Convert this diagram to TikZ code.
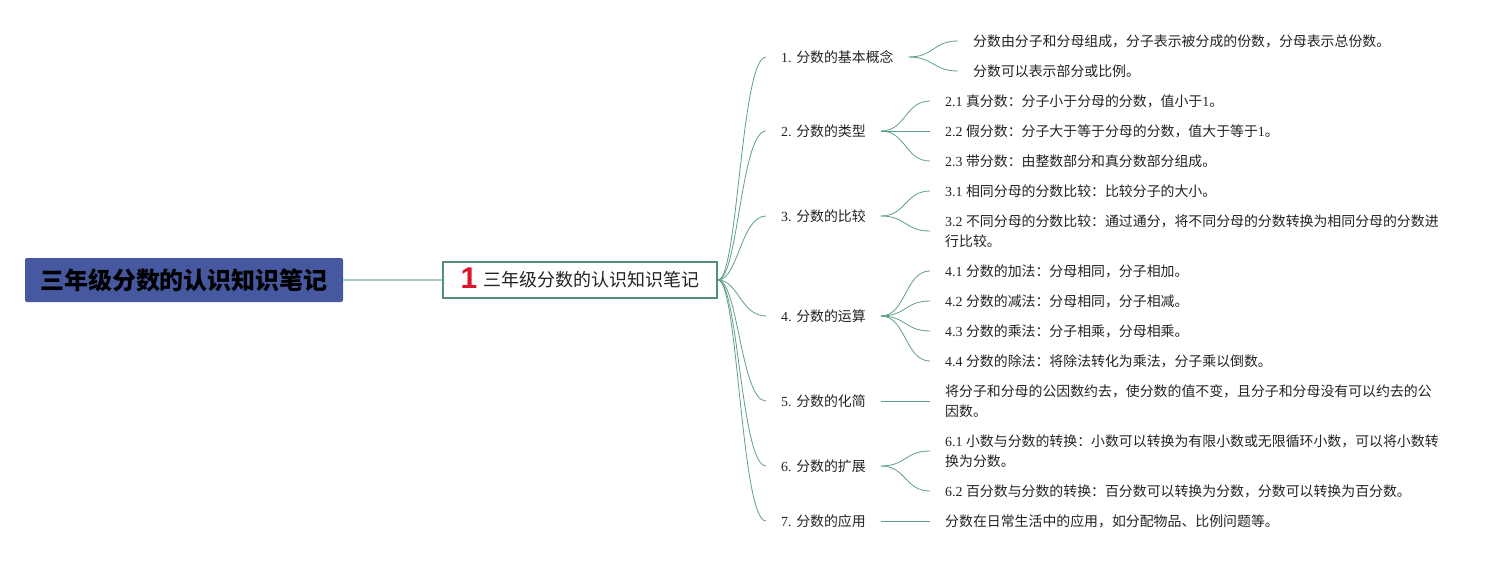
\documentclass[tikz,border=0pt]{standalone}
\usepackage{fontspec}
\setmainfont{Liberation Serif}
\newfontfamily\cjk{Noto Sans CJK SC}
\newfontfamily\iconfont{Liberation Sans}
\XeTeXinterchartokenstate=1
\newXeTeXintercharclass\mycjkclass
\count255="3000
\loop \XeTeXcharclass\count255=\mycjkclass \advance\count255 by 1 \ifnum\count255<"3040 \repeat
\count255="4E00
\loop \XeTeXcharclass\count255=\mycjkclass \advance\count255 by 1 \ifnum\count255<"A000 \repeat
\count255="FF00
\loop \XeTeXcharclass\count255=\mycjkclass \advance\count255 by 1 \ifnum\count255<"FFF0 \repeat
\XeTeXinterchartoks 0 \mycjkclass = {\cjk}
\XeTeXinterchartoks 4095 \mycjkclass = {\cjk}
\XeTeXinterchartoks \mycjkclass 0 = {\rmfamily}
\XeTeXinterchartoks \mycjkclass 4095 = {\rmfamily}
\definecolor{linkc}{RGB}{95,158,138}
\definecolor{mainlink}{RGB}{166,203,191}
\definecolor{rootc}{RGB}{69,88,160}
\definecolor{boxc}{RGB}{84,143,124}
\definecolor{iconred}{RGB}{220,20,40}
\definecolor{txt}{RGB}{35,35,35}
\tikzset{
  conn/.style={draw=linkc, line width=0.8pt},
  lone/.style={anchor=west, inner xsep=15pt, inner ysep=3pt, text=txt, font=\fontsize{13.9}{20}\selectfont},
  ltwo/.style={lone, align=left},
  rootbox/.style={fill=rootc, rounded corners=2pt, minimum width=318pt, minimum height=44pt, inner sep=0pt, text=black, font=\fontsize{24}{28}\selectfont\bfseries},
  centerbox/.style={draw=boxc, line width=2pt, fill=white, minimum width=274pt, minimum height=36pt, inner sep=0pt, text=txt, font=\fontsize{18}{22}\selectfont}
}
\begin{document}
\begin{tikzpicture}[x=1pt,y=-1pt]
\useasboundingbox (0,0) rectangle (1505,560);
% root and center
\node[rootbox] (root) at (184,280) {三年级分数的认识知识笔记};
\node[centerbox] (center) at (580,280) {\raisebox{-2pt}{\smash{\iconfont\bfseries\fontsize{30}{30}\selectfont\color{iconred}1}}\hspace{6pt}三年级分数的认识知识笔记};
\draw[draw=mainlink, line width=1.5pt] (root.east) -- (center.west);
% level one
\node[lone] (b1) at (766,57) {1. 分数的基本概念};
\node[lone] (b2) at (766,131) {2. 分数的类型};
\node[lone] (b3) at (766,216) {3. 分数的比较};
\node[lone] (b4) at (766,316) {4. 分数的运算};
\node[lone] (b5) at (766,401) {5. 分数的化简};
\node[lone] (b6) at (766,466) {6. 分数的扩展};
\node[lone] (b7) at (766,521) {7. 分数的应用};
\foreach \b in {b1,b2,b3,b4,b5,b6,b7}
  \draw[conn] (center.east) .. controls +(20,0) and +(-25,0) .. (\b.west);
% level two
\node[ltwo] (c11) at (958,41) {分数由分子和分母组成，分子表示被分成的份数，分母表示总份数。};
\node[ltwo] (c12) at (958,71) {分数可以表示部分或比例。};
\node[ltwo] (c21) at (930,101) {2.1 真分数：分子小于分母的分数，值小于1。};
\node[ltwo] (c22) at (930,131) {2.2 假分数：分子大于等于分母的分数，值大于等于1。};
\node[ltwo] (c23) at (930,161) {2.3 带分数：由整数部分和真分数部分组成。};
\node[ltwo] (c31) at (930,191) {3.1 相同分母的分数比较：比较分子的大小。};
\node[ltwo] (c32) at (930,231) {3.2 不同分母的分数比较：通过通分，将不同分母的分数转换为相同分母的分数进\\行比较。};
\node[ltwo] (c41) at (930,271) {4.1 分数的加法：分母相同，分子相加。};
\node[ltwo] (c42) at (930,301) {4.2 分数的减法：分母相同，分子相减。};
\node[ltwo] (c43) at (930,331) {4.3 分数的乘法：分子相乘，分母相乘。};
\node[ltwo] (c44) at (930,361) {4.4 分数的除法：将除法转化为乘法，分子乘以倒数。};
\node[ltwo] (c51) at (930,401) {将分子和分母的公因数约去，使分数的值不变，且分子和分母没有可以约去的公\\因数。};
\node[ltwo] (c61) at (930,451) {6.1 小数与分数的转换：小数可以转换为有限小数或无限循环小数，可以将小数转\\换为分数。};
\node[ltwo] (c62) at (930,491) {6.2 百分数与分数的转换：百分数可以转换为分数，分数可以转换为百分数。};
\node[ltwo] (c71) at (930,521) {分数在日常生活中的应用，如分配物品、比例问题等。};
\foreach \p/\c in {b1/c11,b1/c12,b2/c21,b2/c22,b2/c23,b3/c31,b3/c32,b4/c41,b4/c42,b4/c43,b4/c44,b5/c51,b6/c61,b6/c62,b7/c71}
  \draw[conn] (\p.east) .. controls +(25,0) and +(-25,0) .. (\c.west);
\end{tikzpicture}
\end{document}
